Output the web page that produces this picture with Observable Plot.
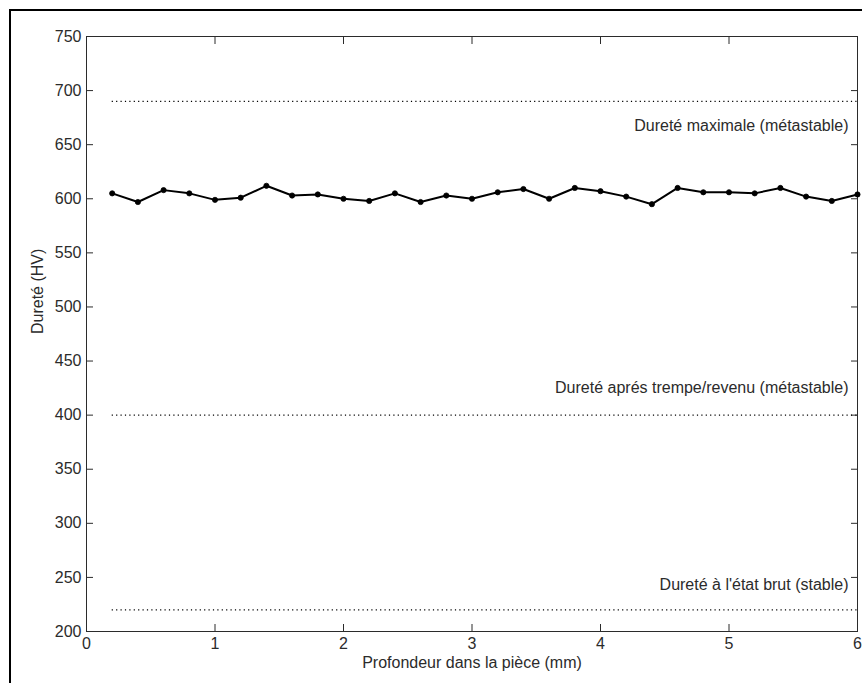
<!DOCTYPE html>
<html>
<head>
<meta charset="utf-8">
<script src="https://cdn.jsdelivr.net/npm/d3@7"></script>
<script src="https://cdn.jsdelivr.net/npm/@observablehq/plot@0.6"></script>
<style>
  html, body { margin: 0; padding: 0; background: #fff; }
  #chart { position: relative; width: 862px; height: 683px; }
  #chart svg { display: block; }
  .outer-frame { position: absolute; left: 9px; top: 9px; width: 860px; height: 680px;
    border-left: 2px solid #000; border-top: 2px solid #000; pointer-events: none; }
</style>
</head>
<body>
<div id="chart"><div class="outer-frame"></div></div>
<script>
// Hardness profile measured along depth in the part
const depths = [0.2, 0.4, 0.6, 0.8, 1.0, 1.2, 1.4, 1.6, 1.8, 2.0,
                2.2, 2.4, 2.6, 2.8, 3.0, 3.2, 3.4, 3.6, 3.8, 4.0,
                4.2, 4.4, 4.6, 4.8, 5.0, 5.2, 5.4, 5.6, 5.8, 6.0];
const hardness = [605, 597, 608, 605, 599, 601, 612, 603, 604, 600,
                  598, 605, 597, 603, 600, 606, 609, 600, 610, 607,
                  602, 595, 610, 606, 606, 605, 610, 602, 598, 604];

// Reference hardness levels and their labels
const refValues = [690, 400, 220];
const refLabels = [
  "Dureté maximale (métastable)",
  "Dureté aprés trempe/revenu (métastable)",
  "Dureté à l'état brut (stable)"
];

const xTicks = [0, 1, 2, 3, 4, 5, 6];
const yTicks = [200, 250, 300, 350, 400, 450, 500, 550, 600, 650, 700, 750];

const points = depths.map((d, i) => ({depth: d, hv: hardness[i]}));
const refs = refValues.map((v, i) => ({hv: v, label: refLabels[i]}));

const ink = "#2b2b2b";
const fs = 16;

const chart = Plot.plot({
  width: 862,
  height: 683,
  marginLeft: 86,
  marginRight: 5,
  marginTop: 36,
  marginBottom: 52,
  style: {fontFamily: "'Liberation Sans', Arial, sans-serif", fontSize: fs + "px", color: ink, background: "transparent"},
  x: {domain: [0, 6]},
  y: {domain: [200, 750]},
  marks: [
    // tick labels
    Plot.axisX(xTicks, {tickSize: 0, tickPadding: 6, tickFormat: d3.format("d"), fontSize: fs, fill: ink, label: null}),
    Plot.axisY(yTicks, {tickSize: 0, tickPadding: 5, tickFormat: d3.format("d"), fontSize: fs, fill: ink, label: null}),
    // inward tick marks on all four sides
    Plot.axisX(xTicks, {anchor: "bottom", tickSize: -7, text: null, label: null, stroke: ink}),
    Plot.axisX(xTicks, {anchor: "top", tickSize: -7, text: null, label: null, stroke: ink}),
    Plot.axisY(yTicks, {anchor: "left", tickSize: -7, text: null, label: null, stroke: ink}),
    Plot.axisY(yTicks, {anchor: "right", tickSize: -7, text: null, label: null, stroke: ink}),
    Plot.frame({stroke: ink, strokeWidth: 1}),
    // axis titles
    Plot.text(["Profondeur dans la pièce (mm)"], {frameAnchor: "bottom", dy: 36, fontSize: fs, fill: ink}),
    Plot.text(["Dureté (HV)"], {frameAnchor: "left", dx: -49, rotate: -90, fontSize: fs, fill: ink}),
    // reference levels
    Plot.ruleY(refs, {y: "hv", x1: depths[0], x2: 6, stroke: "#000", strokeWidth: 1.2, strokeDasharray: "1.2,3.2"}),
    Plot.text(refs.slice(0, 1), {x: 6, y: "hv", text: "label", textAnchor: "end", dx: -9, dy: 24, fontSize: fs, fill: ink}),
    Plot.text(refs.slice(1, 2), {x: 6, y: "hv", text: "label", textAnchor: "end", dx: -9, dy: -27, fontSize: fs, fill: ink}),
    Plot.text(refs.slice(2), {x: 6, y: "hv", text: "label", textAnchor: "end", dx: -9, dy: -25, fontSize: fs, fill: ink}),
    // measured profile
    Plot.line(points, {x: "depth", y: "hv", stroke: "#000", strokeWidth: 2}),
    Plot.dot(points, {x: "depth", y: "hv", r: 2.6, fill: "#000", stroke: "#000", strokeWidth: 0.8})
  ]
});

document.getElementById("chart").prepend(chart);
</script>
</body>
</html>
